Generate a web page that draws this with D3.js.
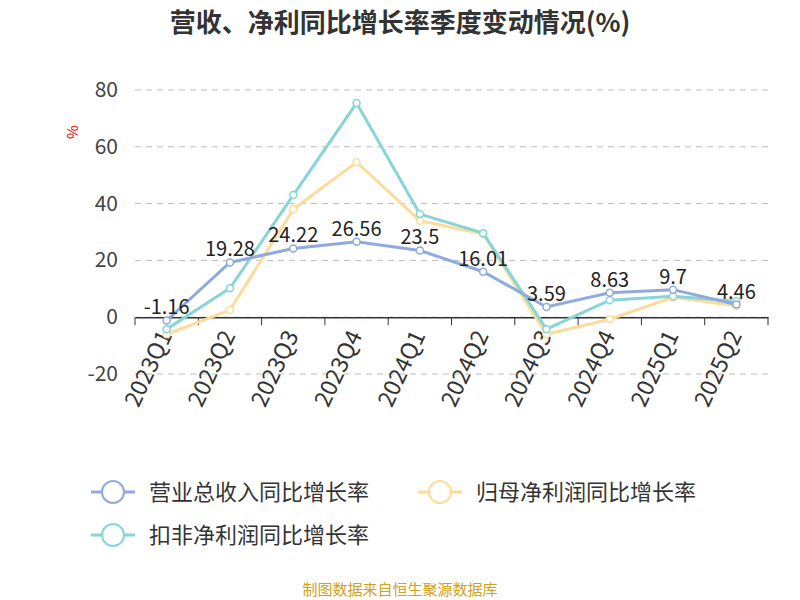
<!DOCTYPE html><html><head><meta charset="utf-8"><script src="https://cdn.jsdelivr.net/npm/d3@7"></script>
<style>body{margin:0;background:#fff}text{font-family:"Noto Sans CJK SC","Noto Sans",sans-serif}</style></head><body><svg id="c" width="800" height="600"></svg>
<script>
const categories=["2023Q1","2023Q2","2023Q3","2023Q4","2024Q1","2024Q2","2024Q3","2024Q4","2025Q1","2025Q2"];
const revenue=[-1.16,19.28,24.22,26.56,23.5,16.01,3.59,8.63,9.7,4.46];
const netProfit=[-6,2.5,38,54.6,34,29.3,-6,-0.7,7,4];
const deductedProfit=[-4.2,10.2,43,75.4,36.3,29.6,-4.2,6,7.4,5.6];
const yTicks=[-20,0,20,40,60,80];
const names=["营业总收入同比增长率","归母净利润同比增长率","扣非净利润同比增长率"];
const colors=["#8faadc","#fedb9b","#86d5d8"];
const svg=d3.select("#c");
const x=d3.scaleBand().domain(categories).range([135,768]);
const y=d3.scaleLinear().domain([-20,80]).range([374,90]);
svg.append("text").attr("x",400).attr("y",32).attr("text-anchor","middle").attr("font-size",26).attr("font-weight","bold").attr("fill","#333").text("营收、净利同比增长率季度变动情况(%)");
svg.selectAll(".g").data(yTicks).enter().append("line").attr("x1",135).attr("x2",768).attr("y1",d=>y(d)).attr("y2",d=>y(d)).attr("stroke","#bbb").attr("stroke-dasharray","6,5");
svg.selectAll(".yl").data(yTicks).enter().append("text").attr("x",118).attr("y",d=>y(d)+7).attr("text-anchor","end").attr("font-size",21).attr("fill","#444").attr("font-family","Liberation Sans").text(d=>d);
svg.append("text").attr("transform","translate(78,132) rotate(-90)").attr("text-anchor","middle").attr("font-size",15).attr("fill","#e00").text("%");
const ax=svg.append("g").attr("transform",`translate(0,${y(0)})`).call(d3.axisBottom(x).tickSize(0).tickFormat(""));
ax.select(".domain").attr("stroke","#333").attr("stroke-width",1.5);
const bounds=categories.map(c=>x(c)).concat([768]);
svg.selectAll(".tk").data(bounds).enter().append("line").attr("x1",d=>d).attr("x2",d=>d).attr("y1",y(0)).attr("y2",y(0)+8).attr("stroke","#333");
svg.selectAll(".xl").data(categories).enter().append("text").attr("transform",d=>`translate(${x(d)+x.bandwidth()/2+6},${y(0)+18}) rotate(-65)`).attr("text-anchor","end").attr("font-size",23).attr("fill","#333").attr("font-family","Liberation Sans").text(d=>d);
const series=[revenue,netProfit,deductedProfit];
const cx=d=>x(d)+x.bandwidth()/2;
const line=d3.line().x((d,i)=>cx(categories[i])).y(d=>y(d));
[1,2,0].forEach(k=>{
 svg.append("path").attr("d",line(series[k])).attr("fill","none").attr("stroke",colors[k]).attr("stroke-width",3);
 svg.selectAll(null).data(series[k]).enter().append("circle").attr("cx",(d,i)=>cx(categories[i])).attr("cy",d=>y(d)).attr("r",3.5).attr("fill","#fff").attr("stroke",colors[k]).attr("stroke-width",1.5);
});
svg.selectAll(".lb").data(revenue).enter().append("text").attr("x",(d,i)=>cx(categories[i])).attr("y",d=>y(d)-6).attr("text-anchor","middle").attr("font-size",20).attr("fill","#222").attr("font-family","Liberation Sans").text(d=>d);
const leg=[[113,492],[440,492],[113,535]];
leg.forEach((p,k)=>{
 const g=svg.append("g").attr("transform",`translate(${p[0]},${p[1]})`);
 g.append("line").attr("x1",-22).attr("x2",22).attr("stroke",colors[k]).attr("stroke-width",3);
 g.append("circle").attr("r",11).attr("fill","#fff").attr("stroke",colors[k]).attr("stroke-width",2);
 g.append("text").attr("x",36).attr("y",8).attr("font-size",22).attr("fill","#333").text(names[k]);
});
svg.append("text").attr("x",400).attr("y",595).attr("text-anchor","middle").attr("font-size",15).attr("fill","#d4a020").text("制图数据来自恒生聚源数据库");
</script></body></html>
